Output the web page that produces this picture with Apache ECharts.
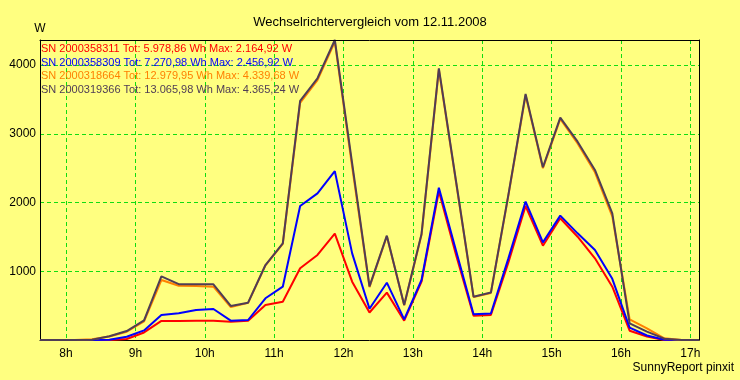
<!DOCTYPE html>
<html>
<head>
<meta charset="utf-8">
<script src="https://cdn.jsdelivr.net/npm/echarts@6/dist/echarts.min.js"></script>
<style>
html,body{margin:0;padding:0;background:#FFFF80;}
#c{width:740px;height:380px;}
</style>
</head>
<body>
<div id="c"></div>
<script>
// Time stamps (hours, centre of each 15-minute interval)
const times = [7.625, 7.875, 8.125, 8.375, 8.625, 8.875, 9.125, 9.375, 9.625, 9.875,
  10.125, 10.375, 10.625, 10.875, 11.125, 11.375, 11.625, 11.875, 12.125, 12.375,
  12.625, 12.875, 13.125, 13.375, 13.625, 13.875, 14.125, 14.375, 14.625, 14.875,
  15.125, 15.375, 15.625, 15.875, 16.125, 16.375, 16.625, 16.875, 17.125];

const hourTicks = [8, 9, 10, 11, 12, 13, 14, 15, 16, 17];
const yTicks = [0, 1000, 2000, 3000, 4000];

const seriesNames = [
  'SN 2000358311 Tot: 5.978,86 Wh Max: 2.164,92 W',
  'SN 2000358309 Tot: 7.270,98 Wh Max: 2.456,92 W',
  'SN 2000318664 Tot: 12.979,95 Wh Max: 4.339,68 W',
  'SN 2000319366 Tot: 13.065,98 Wh Max: 4.365,24 W'
];

const red = [0, 0, 0, 0, 0, 15, 110, 278, 278, 280,
  280, 266, 281, 509, 557, 1043, 1237, 1548, 849, 400,
  689, 281, 848, 2165, 1230, 354, 364, 1120, 1950, 1372,
  1771, 1503, 1189, 775, 135, 50, 0, 0, 0];

const blue = [0, 0, 0, 0, 5, 48, 140, 364, 390, 436,
  451, 281, 291, 607, 776, 1950, 2134, 2457, 1261, 455,
  834, 301, 873, 2216, 1290, 374, 385, 1180, 2013, 1421,
  1809, 1552, 1310, 890, 180, 65, 5, 0, 0];

const orange = [0, 0, 0, 10, 50, 120, 270, 873, 790, 785,
  776, 480, 540, 1085, 1400, 3450, 3780, 4340, 2520, 770,
  1510, 505, 1530, 3935, 2280, 625, 685, 2090, 3560, 2500,
  3215, 2860, 2440, 1800, 301, 170, 25, 0, 0];

const dark = [0, 0, 0, 5, 55, 130, 285, 926, 812, 810,
  810, 495, 543, 1091, 1407, 3478, 3808, 4365, 2570, 780,
  1518, 509, 1542, 3953, 2295, 630, 690, 2100, 3579, 2513,
  3235, 2886, 2474, 1843, 243, 121, 19, 0, 0];

const colors = ['#ff0000', '#0000ff', '#ff8000', '#4f3d55'];
const values = [red, blue, orange, dark];

const FONT = 'Liberation Sans, Arial, sans-serif';
const chart = echarts.init(document.getElementById('c'), null, {renderer: 'canvas'});

const series = values.map((v, k) => ({
  name: seriesNames[k],
  type: 'line',
  data: times.map((t, i) => [t, v[i]]),
  symbol: 'none',
  animation: false,
  lineStyle: {color: colors[k], width: 2},
  itemStyle: {color: colors[k]},
  z: 3 + k
}));

const gridLine = {show: true, lineStyle: {color: '#11dd11', type: [4, 3], width: 1}};
const blackLine = {show: true, onZero: false, lineStyle: {color: '#000', width: 1}};

chart.setOption({
  backgroundColor: '#FFFF80',
  animation: false,
  title: [{
    text: 'Wechselrichtervergleich vom 12.11.2008',
    left: 'center', top: 11,
    textStyle: {fontFamily: FONT, fontSize: 13, fontWeight: 'normal', color: '#000'}
  }, {
    text: 'SunnyReport pinxit',
    right: 1, bottom: 1,
    textStyle: {fontFamily: FONT, fontSize: 12, fontWeight: 'normal', color: '#000'}
  }],
  legend: {
    orient: 'vertical', left: 36, top: 41, padding: 0,
    icon: 'none', itemWidth: 0, itemHeight: 16, itemGap: 0,
    selectedMode: false,
    textStyle: {fontFamily: FONT, fontSize: 11},
    data: seriesNames.map((n, k) => ({name: n, textStyle: {color: colors[k]}}))
  },
  grid: {
    left: 40, right: 41, top: 40, bottom: 40,
    show: true, backgroundColor: '#FFFF80', borderColor: '#000', borderWidth: 0
  },
  xAxis: [{
    type: 'value', min: times[0], max: times[times.length - 1],
    axisLine: blackLine,
    axisTick: {show: false, customValues: hourTicks},
    axisLabel: {
      customValues: hourTicks, margin: 8,
      fontFamily: FONT, fontSize: 12, color: '#000',
      formatter: v => v + 'h'
    },
    splitLine: gridLine,
    z: 2
  }, {
    type: 'value', position: 'top', min: times[0], max: times[times.length - 1],
    axisLine: blackLine, axisTick: {show: false}, axisLabel: {show: false},
    splitLine: {show: false}, z: 10
  }],
  yAxis: [{
    type: 'value', min: 0, max: 4365, interval: 1000,
    name: 'W', nameLocation: 'end', nameGap: 5,
    nameTextStyle: {fontFamily: FONT, fontSize: 12, color: '#000', align: 'center'},
    axisLine: blackLine,
    axisTick: {show: false},
    axisLabel: {
      showMaxLabel: false, margin: 4,
      fontFamily: FONT, fontSize: 12, color: '#000',
      formatter: v => (yTicks.indexOf(v) > 0 ? String(v) : '')
    },
    splitLine: {show: true, showMaxLine: false, showMinLine: false,
      lineStyle: {color: '#11dd11', type: [4, 3], width: 1}},
    z: 2
  }, {
    type: 'value', position: 'right', min: 0, max: 4365,
    axisLine: blackLine, axisTick: {show: false}, axisLabel: {show: false},
    splitLine: {show: false}, z: 10
  }],
  series: series
});
</script>
</body>
</html>
